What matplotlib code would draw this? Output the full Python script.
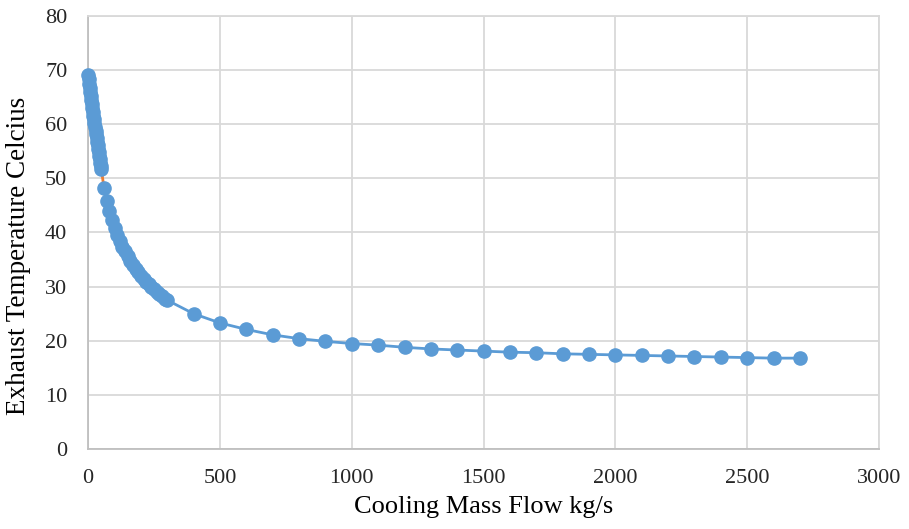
import numpy as np
import matplotlib.pyplot as plt

# low flow range, closely spaced
flow_a = [0, 2, 4, 6, 8, 10, 12, 14, 16, 18, 20, 22, 24, 26, 28, 30, 32, 34, 36, 38,
          40, 42, 44, 46, 48, 50]
temp_a = [69.1, 68.3, 67.5, 66.7, 66.0, 65.2, 64.5, 63.7, 63.0, 62.3, 61.6, 60.9,
          60.2, 59.5, 58.8, 58.1, 57.5, 56.8, 56.2, 55.5, 54.8, 54.1, 53.5, 52.9,
          52.3, 51.7]

# higher flow range
flow_b = [60, 70, 80, 90, 100, 110, 120, 130, 140, 150, 160, 170, 180, 190, 200,
          210, 220, 230, 240, 250, 260, 270, 280, 290, 300,
          400, 500, 600, 700, 800, 900, 1000, 1100, 1200, 1300, 1400, 1500, 1600,
          1700, 1800, 1900, 2000, 2100, 2200, 2300, 2400, 2500, 2600, 2700]
temp_b = [48.2, 45.8, 43.9, 42.3, 40.9, 39.6, 38.5, 37.4, 36.5, 35.6, 34.8, 34.0,
          33.3, 32.7, 32.0, 31.5, 30.9, 30.4, 29.9, 29.5, 29.0, 28.6, 28.2, 27.8,
          27.5,
          25.0, 23.3, 22.1, 21.1, 20.4, 19.9, 19.5, 19.2, 18.8, 18.5, 18.3, 18.1,
          17.9, 17.8, 17.6, 17.5, 17.4, 17.3, 17.2, 17.1, 17.0, 16.9, 16.8, 16.8]

blue = '#5B9BD5'
orange = '#ED7D31'
grey = '#D9D9D9'

plt.rcParams['font.family'] = ['Liberation Serif', 'DejaVu Serif']

fig = plt.figure(figsize=(9.09, 5.29), dpi=100)
ax = fig.add_axes([0.097, 0.151, 0.870, 0.819])

# short joining segment between the two series
ax.plot([flow_a[-1], flow_b[0]], [temp_a[-1], temp_b[0]], color=orange, lw=2, zorder=2)
ax.plot(flow_a, temp_a, color=blue, lw=2, marker='o', ms=9.5, zorder=3, clip_on=False)
ax.plot(flow_b, temp_b, color=blue, lw=2, marker='o', ms=9.5, zorder=3, clip_on=False)

ax.set_xlim(0, 3000)
ax.set_ylim(0, 80)
ax.set_xticks(np.arange(0, 3001, 500))
ax.set_yticks(np.arange(0, 81, 10))
ax.grid(True, color=grey, lw=1.3)
ax.set_axisbelow(True)
for s in ax.spines.values():
    s.set_color(grey)
    s.set_linewidth(1.3)
ax.spines['left'].set_color('#BFBFBF')
ax.spines['bottom'].set_color('#BFBFBF')
ax.tick_params(length=0, labelsize=16, colors='#262626')
ax.tick_params(axis='x', pad=14)
ax.tick_params(axis='y', pad=15)

ax.set_xlabel('Cooling Mass Flow kg/s', fontsize=19, labelpad=6)
ax.set_ylabel('Exhaust Temperature Celcius', fontsize=19.5)
ax.yaxis.set_label_coords(-0.072, 0.445)

fig.savefig('out.png', dpi=100)
